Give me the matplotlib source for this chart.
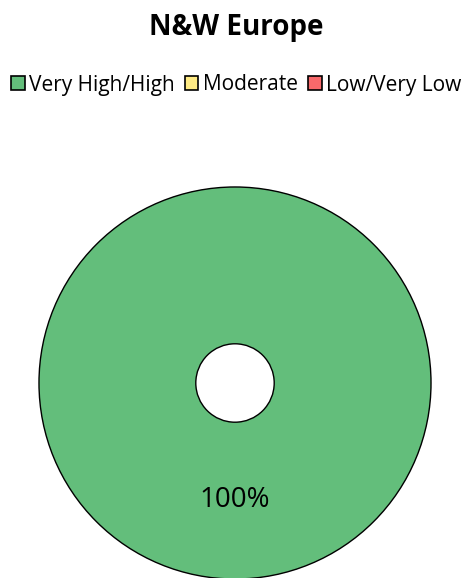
import matplotlib
matplotlib.use("Agg")
import matplotlib.pyplot as plt
from matplotlib.patches import Patch, Circle

title = "N&W Europe"
categories = ["Very High/High", "Moderate", "Low/Very Low"]
values = [100, 0, 0]
colors = ["#63BE7B", "#FFEB84", "#F8696B"]

plt.rcParams['font.family'] = ['Open Sans', 'DejaVu Sans']

fig = plt.figure(figsize=(4.72, 5.78), dpi=100)
ax = fig.add_axes([38/472, (578-580)/578, 394/472, 394/578])

def fmt(p):
    return f"{p:.0f}%" if p > 0 else ""

inner = 0.2
wedges, texts, autotexts = ax.pie(values, colors=colors, startangle=90, counterclock=True,
                                  autopct=fmt, pctdistance=0.595,
                                  wedgeprops=dict(width=1 - inner, edgecolor="none", linewidth=0),
                                  textprops=dict(fontsize=20, color="black"))
ax.add_patch(Circle((0, 0), 1.0, fill=False, edgecolor="black", linewidth=1.0))
ax.add_patch(Circle((0, 0), inner, fill=False, edgecolor="black", linewidth=1.0))
ax.set_aspect("equal")
ax.set_xlim(-1.005, 1.005)
ax.set_ylim(-1.005, 1.005)
ax.axis("off")

fig.text(0.5, 1 - 27/578, title, ha="center", va="center", fontsize=20, fontweight="bold")
handles = [Patch(facecolor=c, edgecolor="black", linewidth=1.2) for c in colors]
fig.legend(handles, categories, loc="center", bbox_to_anchor=(0.5, 1 - 85/578), ncol=3,
           frameon=False, fontsize=15, handlelength=0.65, handleheight=0.65,
           handletextpad=0.2, columnspacing=0.5)

fig.savefig("out.png", dpi=100)
